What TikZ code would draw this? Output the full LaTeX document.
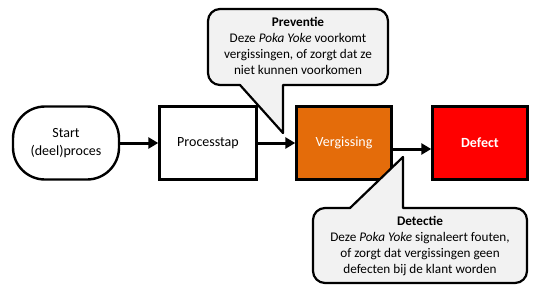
\documentclass[tikz,border=0pt]{standalone}
\usepackage{fontspec}
\setmainfont{Carlito}
\usetikzlibrary{arrows.meta,positioning}
\definecolor{Oranje}{HTML}{E46C0A}
\definecolor{Rood}{HTML}{FF0000}
\definecolor{BalloonGray}{HTML}{F2F2F2}
\definecolor{LineBlack}{HTML}{000000}

\begin{document}
\begin{tikzpicture}[x=1pt,y=-1pt,
    stepbox/.style={draw=LineBlack,line width=2.4pt,minimum width=95pt,
      minimum height=73pt,inner sep=0pt,align=center,
      font=\fontsize{14}{18}\selectfont},
    flow/.style={draw=LineBlack,line width=3pt,-{Triangle[length=10pt,width=11pt]}},
    balloon/.style={draw=LineBlack,line width=2.2pt,fill=BalloonGray,line join=round},
    balloontext/.style={align=center,inner sep=0pt,
      font=\fontsize{13.2}{16}\selectfont}]
  \useasboundingbox (0,0) rectangle (534,293);

  % flow of the process
  \node[stepbox,minimum width=106pt,rounded corners=32pt] (start) at (66,143)
    {Start\\(deel)proces};
  \node[stepbox,minimum width=97pt] (stap) at (208,143) {Processtap};
  \node[stepbox,fill=Oranje,text=white] (verg) at (344,143) {Vergissing};
  \node[stepbox,fill=Rood,text=white,font=\bfseries\fontsize{14}{18}\selectfont]
    (defect) at (480,143) {Defect};

  \draw[flow] (start) -- (stap);
  \draw[flow] (stap) -- (verg);
  \draw[flow] ([yshift=-6pt]verg.east) -- ([yshift=-6pt]defect.west);

  % balloon: preventie
  \draw[balloon] (240,85) [rounded corners=12] -- (208,85) -- (208,9)
    -- (388,9) -- (388,85) [sharp corners] -- (283,85) -- (283,133) -- cycle;
  \node[balloontext] (prev) at (298,46)
    {\textbf{Preventie}\\Deze \textit{Poka Yoke} voorkomt\\
     vergissingen, of zorgt dat ze\\niet kunnen voorkomen};

  % balloon: detectie
  \draw[balloon] (403,208) [rounded corners=12] -- (527,208) -- (527,283)
    -- (313,283) -- (313,208) [sharp corners] -- (350,208) -- (403,157) -- cycle;
  \node[balloontext] (det) at (420,246)
    {\textbf{Detectie}\\Deze \textit{Poka Yoke} signaleert fouten,\\
     of zorgt dat vergissingen geen\\defecten bij de klant worden};
\end{tikzpicture}
\end{document}
